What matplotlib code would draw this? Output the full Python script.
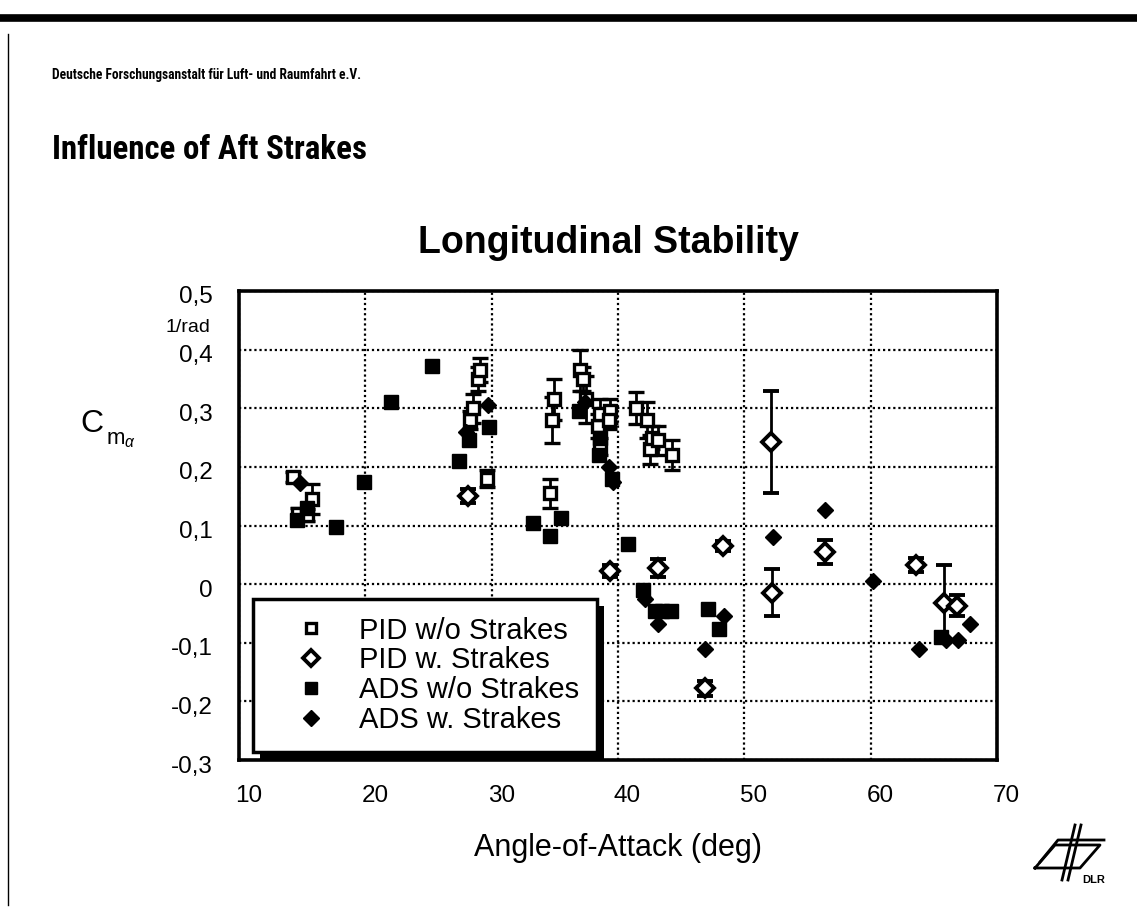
import matplotlib
matplotlib.use("Agg")
import matplotlib.pyplot as plt
from matplotlib.lines import Line2D
from matplotlib.patches import Rectangle
from matplotlib import font_manager
import matplotlib.transforms as mtransforms

plt.rcParams['font.family'] = ['Liberation Sans', 'DejaVu Sans']
plt.rcParams['mathtext.fontset'] = 'custom'
plt.rcParams['mathtext.rm'] = 'Liberation Sans'
plt.rcParams['mathtext.it'] = 'Liberation Sans:italic'

# ---------------- data ----------------
pid_wo_x = [14.3, 14.7, 15.4, 15.8, 28.3, 28.5, 28.9, 29.1, 29.6, 34.6, 34.8, 34.9,
            37.0, 37.2, 37.5, 38.4, 38.6, 38.6, 39.4, 39.3, 41.4, 42.3, 42.5, 42.7,
            43.2, 44.3]
pid_wo_y = [0.183, 0.120, 0.118, 0.145, 0.280, 0.300, 0.350, 0.365, 0.180, 0.155, 0.280, 0.315,
            0.365, 0.350, 0.315, 0.270, 0.290, 0.235, 0.295, 0.280, 0.300, 0.280, 0.230, 0.250,
            0.245, 0.220]
pid_wo_err = [0.008, 0.010, 0.010, 0.025, 0.015, 0.025, 0.020, 0.020, 0.015, 0.025, 0.040, 0.035,
              0.035, 0.020, 0.040, 0.020, 0.025, 0.015, 0.020, 0.015, 0.027, 0.030, 0.025, 0.020,
              0.025, 0.025]

pid_w_x = [28.1, 39.4, 43.2, 46.9, 48.3, 52.1, 52.2, 56.4, 63.6, 65.8, 66.8]
pid_w_y = [0.150, 0.022, 0.028, -0.178, 0.065, 0.242, -0.015, 0.055, 0.033, -0.032, -0.037]
pid_w_err = [0.012, 0.010, 0.015, 0.012, 0.008, 0.087, 0.040, 0.020, 0.012, 0.065, 0.018]

ads_wo_x = [14.6, 15.4, 17.7, 19.9, 22.0, 25.3, 27.4, 28.2, 29.8, 33.3, 34.6, 35.5,
            36.9, 38.5, 38.6, 39.5, 40.8, 42.0, 42.9, 43.5, 44.2, 47.1, 48.0, 65.6]
ads_wo_y = [0.110, 0.130, 0.097, 0.175, 0.310, 0.372, 0.210, 0.245, 0.268, 0.105, 0.082, 0.112,
            0.295, 0.220, 0.250, 0.180, 0.068, -0.010, -0.045, -0.045, -0.045, -0.042, -0.077, -0.090]

ads_w_x = [14.8, 28.0, 29.7, 37.4, 39.3, 39.6, 42.1, 43.2, 46.9, 48.4, 52.3, 56.4,
           60.2, 63.8, 66.0, 66.9, 67.9]
ads_w_y = [0.172, 0.260, 0.305, 0.310, 0.200, 0.175, -0.025, -0.068, -0.110, -0.055, 0.080, 0.127,
           0.005, -0.110, -0.095, -0.095, -0.068]

x_ticks = [10, 20, 30, 40, 50, 60, 70]
y_ticks = [-0.3, -0.2, -0.1, 0.0, 0.1, 0.2, 0.3, 0.4, 0.5]
y_tick_labels = ['-0,3', '-0,2', '-0,1', '0', '0,1', '0,2', '0,3', '0,4', '0,5']
legend_labels = ['PID w/o Strakes', 'PID w. Strakes', 'ADS w/o Strakes', 'ADS w. Strakes']

# ---------------- fonts ----------------
installed = {f.name for f in font_manager.fontManager.ttflist}
narrow = None
for cand in ['Liberation Sans Narrow', 'Arial Narrow', 'DejaVu Sans Condensed', 'Roboto Condensed']:
    if cand in installed:
        narrow = cand
        break
head_family = [narrow, 'Liberation Sans'] if narrow else ['Liberation Sans']

# ---------------- figure ----------------
W, H = 1137, 909
fig = plt.figure(figsize=(W / 100, H / 100), dpi=100)
fig.patch.set_facecolor('white')


def fx(px):
    return px / W


def fy(py):
    return 1 - py / H


ax = fig.add_axes([fx(239), fy(760), fx(997) - fx(239), fy(291) - fy(760)])
ax.set_xlim(10, 70)
ax.set_ylim(-0.3, 0.5)

ax.set_xticks(x_ticks)
ax.set_xticklabels([str(t) for t in x_ticks])
ax.set_yticks(y_ticks)
ax.set_yticklabels(y_tick_labels)
ax.tick_params(length=0, labelsize=17.5)
ax.tick_params(axis='y', pad=19)
ax.tick_params(axis='x', pad=18)
xshift = mtransforms.ScaledTranslation(-4 / 100, 0, fig.dpi_scale_trans)
for t in ax.get_xticklabels():
    t.set_horizontalalignment('left')
    t.set_transform(t.get_transform() + xshift)
yshift = mtransforms.ScaledTranslation(0, -4 / 100, fig.dpi_scale_trans)
for t in ax.get_yticklabels():
    t.set_transform(t.get_transform() + yshift)
ax.grid(True, color='black', linestyle=(0, (1.0, 1.3)), linewidth=1.6)
ax.set_axisbelow(True)
for s in ax.spines.values():
    s.set_linewidth(2.6)
    s.set_color('black')

err_kw = dict(ecolor='black', elinewidth=2.0, capsize=6, capthick=2.0, linestyle='none', zorder=3)

# ADS w/o Strakes: filled squares
ax.plot(ads_wo_x, ads_wo_y, linestyle='none', marker='s', markersize=9.5,
        color='black', zorder=4)
# ADS w. Strakes: filled diamonds
ax.plot(ads_w_x, ads_w_y, linestyle='none', marker='D', markersize=8.5,
        color='black', zorder=4)
# PID w/o Strakes: open squares with error bars
ax.errorbar(pid_wo_x, pid_wo_y, yerr=pid_wo_err, fmt='s', markersize=8.5,
            markerfacecolor='white', markeredgecolor='black', markeredgewidth=2.4, **err_kw)
# PID w. Strakes: open diamonds with error bars
ax.errorbar(pid_w_x, pid_w_y, yerr=pid_w_err, fmt='D', markersize=9,
            markerfacecolor='white', markeredgecolor='black', markeredgewidth=2.8, **err_kw)

handles = [
    Line2D([], [], linestyle='none', marker='s', markersize=7.5, markerfacecolor='white',
           markeredgecolor='black', markeredgewidth=2.4),
    Line2D([], [], linestyle='none', marker='D', markersize=8, markerfacecolor='white',
           markeredgecolor='black', markeredgewidth=2.8),
    Line2D([], [], linestyle='none', marker='s', markersize=8.5, color='black'),
    Line2D([], [], linestyle='none', marker='D', markersize=8, color='black'),
]
leg = ax.legend(handles, legend_labels, loc='lower left', bbox_to_anchor=(0.0185, 0.017),
                borderaxespad=0, fontsize=21, frameon=True, fancybox=False,
                edgecolor='black', framealpha=1, handlelength=2.75, handletextpad=0.25,
                labelspacing=0.06, borderpad=0.62)
leg.get_frame().set_linewidth(2.5)
leg.set_zorder(10)

# ---------------- texts ----------------
t_head = fig.text(fx(52), fy(75), 'Deutsche Forschungsanstalt für Luft- und Raumfahrt e.V.',
                  fontsize=12, fontweight='bold', ha='left', va='center', family=head_family)
t_title = fig.text(fx(52), fy(150), 'Influence of Aft Strakes', fontsize=24, fontweight='bold',
                   ha='left', va='center', family=head_family)
fig.text(fx(608), fy(243), 'Longitudinal Stability', fontsize=27, fontweight='bold',
         ha='center', va='center')
fig.text(fx(210), fy(328), '1/rad', fontsize=14, ha='right', va='center')
fig.text(fx(80), fy(424), 'C', fontsize=23, ha='left', va='center')
fig.text(fx(106), fy(440), r'$\mathrm{m}_{\alpha}$', fontsize=16, ha='left', va='center')
fig.text(fx(618), fy(848), 'Angle-of-Attack (deg)', fontsize=22, ha='center', va='center')

# fit header widths to the page
fig.canvas.draw()
rend = fig.canvas.get_renderer()
for t, target in [(t_head, 310), (t_title, 315)]:
    w = t.get_window_extent(rend).width
    t.set_fontsize(t.get_fontsize() * target / w)

# shadow behind legend (solid black, offset down-right)
fig.canvas.draw()
bb = leg.get_window_extent()
inv = fig.transFigure.inverted()
(x0, y0), (x1, y1) = inv.transform([[bb.x0, bb.y0], [bb.x1, bb.y1]])
off_x, off_y = 7 / W, 7 / H
shadow = Rectangle((x0 + off_x, y0 - off_y), x1 - x0, y1 - y0, transform=fig.transFigure,
                   facecolor='black', edgecolor='none', zorder=9)
shadow.set_clip_on(False)
ax.add_artist(shadow)

# ---------------- page decorations ----------------
fig.add_artist(Line2D([fx(0), fx(1137)], [fy(18), fy(18)], color='black', linewidth=5.5,
                      transform=fig.transFigure))
fig.add_artist(Line2D([fx(8), fx(8)], [fy(34), fy(905)], color='black', linewidth=1.0,
                      transform=fig.transFigure))

# DLR logo (simplified)
logo_lines = [
    [(1035, 868), (1055, 845), (1100, 845), (1080, 868), (1035, 868)],
    [(1040, 862), (1058, 840), (1104, 840)],
    [(1062, 880), (1075, 825)],
    [(1068, 880), (1081, 825)],
]
for pts in logo_lines:
    xs = [fx(p[0]) for p in pts]
    ys = [fy(p[1]) for p in pts]
    fig.add_artist(Line2D(xs, ys, color='black', linewidth=2.0, transform=fig.transFigure))
fig.text(fx(1082), fy(880), 'DLR', fontsize=8, fontweight='bold', ha='left', va='center')

fig.savefig('out.png', dpi=100, facecolor='white')
